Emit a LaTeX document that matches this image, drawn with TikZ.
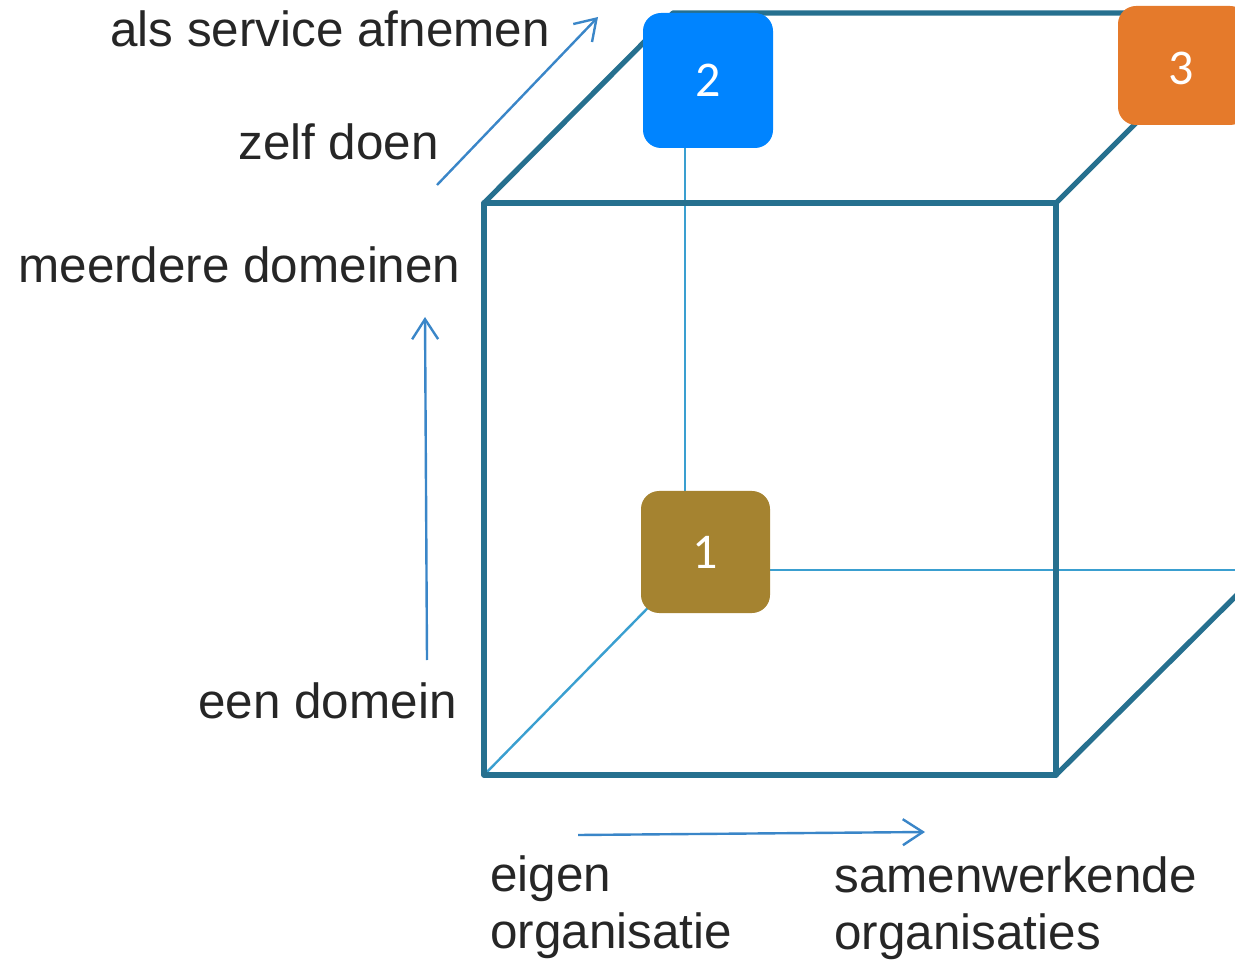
\documentclass[tikz,border=0pt]{standalone}
\usepackage{fontspec}
\setmainfont{Liberation Sans}
\newfontfamily\numfont{Carlito}
\usetikzlibrary{arrows.meta}
\definecolor{thick}{HTML}{26708F}
\definecolor{thin}{HTML}{3A9FD0}
\definecolor{arr}{HTML}{3A86C8}
\definecolor{txt}{HTML}{262626}
\definecolor{cone}{HTML}{A58330}
\definecolor{ctwo}{HTML}{0084FF}
\definecolor{cthree}{HTML}{E57A2B}
\tikzset{
  edgethick/.style={draw=thick, line width=2.6pt, line join=round, line cap=round},
  edgethin/.style={draw=thin, line width=1.2pt},
  axisarrow/.style={draw=arr, line width=1.2pt, -{Straight Barb[length=10pt,width=13pt,line width=1.2pt]}},
  lbl/.style={anchor=base west, inner sep=0pt, text=txt, font=\fontsize{24.7pt}{29pt}\selectfont},
  numbox/.style={rounded corners=9pt, text=white, inner sep=0pt, font=\numfont\fontsize{25pt}{30pt}\selectfont},
}
\begin{document}
\begin{tikzpicture}[x=0.5pt,y=-0.5pt]
\useasboundingbox (0,0) rectangle (1235,961);
% cube corners
\coordinate (FTL) at (484,203);
\coordinate (FTR) at (1056,203);
\coordinate (FBL) at (484,775);
\coordinate (FBR) at (1056,775);
\coordinate (BTL) at (673,13);
\coordinate (BTR) at (1246,13);
\coordinate (BBL) at (685,570);
\coordinate (BBR) at (1262,570);
\coordinate (BVT) at (685,148);
% hidden edges
\draw[edgethin] (FBL) -- (BBL);
\draw[edgethin] (BVT) -- (BBL);
\draw[edgethin] (BBL) -- (BBR);
% visible edges
\draw[edgethick] (FTL) -- (FTR) -- (FBR) -- (FBL) -- cycle;
\draw[edgethick] (FTL) -- (BTL) -- (BTR);
\draw[edgethick] (FTR) -- (BTR);
\draw[edgethick] (FBR) -- (BBR);
% numbered boxes
\node[numbox, fill=ctwo, minimum width=65pt, minimum height=67.5pt] (n2) at (708,80.5) {2};
\node[numbox, fill=cthree, minimum width=65pt, minimum height=59.5pt] (n3) at (1183,65.5) {};
\node[text=white, inner sep=0pt, font=\numfont\fontsize{25pt}{30pt}\selectfont] (n3t) at (1181,68) {3};
\node[numbox, fill=cone, minimum width=64.5pt, minimum height=61pt] (n1) at (705.5,552) {1};
% axis arrows
\coordinate (a1s) at (437,185);
\coordinate (a1e) at (598,17);
\coordinate (a2s) at (427,660);
\coordinate (a2e) at (425,317);
\coordinate (a3s) at (578,835);
\coordinate (a3e) at (925,832);
\draw[axisarrow] (a1s) -- (a1e);
\draw[axisarrow] (a2s) -- (a2e);
\draw[axisarrow] (a3s) -- (a3e);
% labels
\node[lbl] (t1) at (110,47) {als service afnemen};
\node[lbl] (t2) at (238,160) {zelf doen};
\node[lbl] (t3) at (18,283) {meerdere domeinen};
\node[lbl] (t4) at (198,718) {een domein};
\node[lbl] (t5) at (490,891) {eigen};
\node[lbl] (t6) at (490,948) {organisatie};
\node[lbl] (t7) at (834,892) {samenwerkende};
\node[lbl] (t8) at (834,949) {organisaties};
\end{tikzpicture}
\end{document}
